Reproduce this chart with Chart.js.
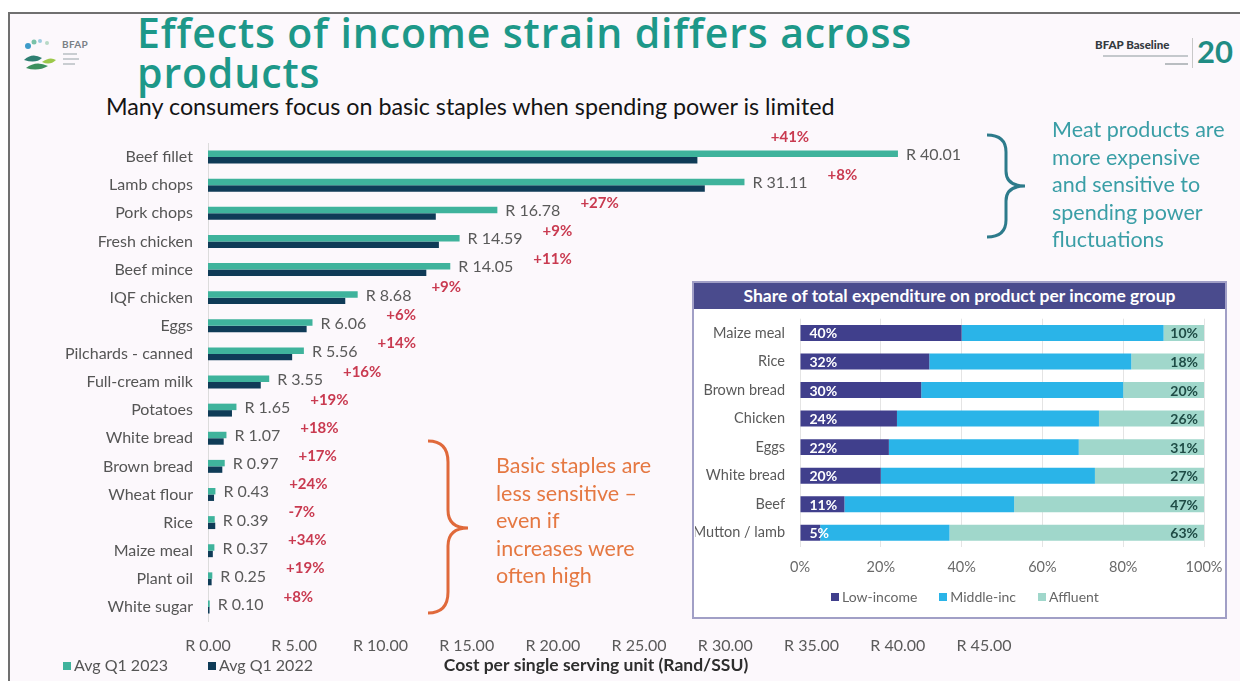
<!DOCTYPE html>
<html>
<head>
<meta charset="utf-8">
<title>Effects of income strain differs across products</title>
<script src="https://cdn.jsdelivr.net/npm/chart.js@4.4.1/dist/chart.umd.min.js"></script>
<style>
  html, body { margin: 0; padding: 0; background: #ffffff; }
  #slide { position: relative; width: 1240px; height: 681px; overflow: hidden; background: #ffffff; font-family: Lato, "Open Sans", sans-serif; }
  #frame { position: absolute; left: 8px; top: 12px; width: 1240px; height: 680px; border-left: 2px solid #707070; border-top: 2px solid #707070; background: #fcf8fc; }
  .abs { position: absolute; white-space: nowrap; }
  #title { left: 137px; top: 12px; color: #1d9889; font-family: "Open Sans", sans-serif; font-weight: 600; font-size: 41px; line-height: 40px; }
  #subtitle { left: 106px; top: 93px; color: #141414; font-size: 23.3px; line-height: 26px; }
  #mainCanvas { position: absolute; left: 0; top: 0; }
  .note { position: absolute; font-size: 21.5px; line-height: 27.6px; white-space: nowrap; }
  #meatNote { left: 1052px; top: 116px; color: #3a9ea6; }
  #stapleNote { left: 496px; top: 452px; color: #e57842; }
  #inset { position: absolute; left: 692px; top: 281px; width: 531px; height: 334px; border: 2px solid #a19fc6; background: #ffffff; }
  #insetHead { position: absolute; left: 0; top: 0; width: 531px; height: 26px; background: #4a4b8d; color: #ffffff; font-weight: 700; font-size: 17.5px; line-height: 26px; text-align: center; }
  #insetCanvas { position: absolute; left: 695px; top: 310px; }
  .legend { position: absolute; color: #555555; white-space: nowrap; }
  .legend span.sw { display: inline-block; width: 8px; height: 8px; margin-right: 3px; vertical-align: 1px; }
  #insetLegend { left: 831px; top: 588px; font-size: 14px; line-height: 18px; color: #666666; }
  #insetLegend .item { margin-right: 22px; }
  #mainLegend { left: 63px; top: 655px; font-size: 16px; line-height: 20px; }
  #mainLegend .item { margin-right: 40px; }
  #logoText { left: 62px; top: 38px; font-size: 10px; font-weight: 700; color: #7a7f86; letter-spacing: 0.3px; }
  #baseline { left: 1095px; top: 38px; font-size: 11.5px; font-weight: 900; color: #333a40; }
  #twenty { left: 1197px; top: 34px; font-size: 31px; font-weight: 700; color: #1f8c84; line-height: 34px; }
</style>
</head>
<body>
<div id="slide">
  <div id="frame"></div>

  <!-- organisation marks -->
  <svg class="abs" style="left:18px;top:34px" width="44" height="42" viewBox="0 0 44 42">
    <circle cx="10" cy="12" r="3" fill="#3d9bc9"/>
    <circle cx="16" cy="8" r="2.5" fill="#79c2a9"/>
    <circle cx="22" cy="7" r="2" fill="#9bcbe0"/>
    <circle cx="29" cy="9" r="2" fill="#b8d9c6"/>
    <path d="M6 26 Q14 18 24 24 Q18 30 6 26 Z" fill="#2f7f72"/>
    <path d="M8 34 Q18 26 30 32 Q20 38 8 34 Z" fill="#3c8f5e"/>
    <path d="M24 28 Q32 22 38 26 Q32 32 24 28 Z" fill="#9cc84a"/>
  </svg>
  <div id="logoText" class="abs">BFAP</div>
  <div class="abs" style="left:63px;top:53px;width:14px;height:2px;background:#c9cdd1"></div>
  <div class="abs" style="left:63px;top:58px;width:16px;height:2px;background:#c9cdd1"></div>
  <div class="abs" style="left:63px;top:63px;width:12px;height:2px;background:#c9cdd1"></div>

  <div id="baseline" class="abs">BFAP Baseline</div>
  <div class="abs" style="left:1103px;top:55px;width:85px;height:2px;background:#c4c8cc"></div>
  <div class="abs" style="left:1165px;top:63px;width:23px;height:2px;background:#b9bdc1"></div>
  <div class="abs" style="left:1192px;top:38px;width:1px;height:30px;background:#c8c8c8"></div>
  <div id="twenty" class="abs">20</div>

  <div id="title" class="abs"><span id="titleLine1">Effects of income strain differs across</span><br><span>products</span></div>
  <div id="subtitle" class="abs">Many consumers focus on basic staples when spending power is limited</div>

  <canvas id="mainCanvas" width="1240" height="681"></canvas>

  <!-- braces grouping the products -->
  <svg class="abs" style="left:0;top:0" width="1240" height="681">
    <path d="M987 135 Q1006 135 1006 152 L1006 171 Q1006 186 1025 186 Q1006 186 1006 201 L1006 220 Q1006 237 987 237"
          fill="none" stroke="#2d7b8b" stroke-width="3"/>
    <path d="M428 441 Q448 441 448 462 L448 510 Q448 528 468 528 Q448 528 448 546 L448 592 Q448 613 428 613"
          fill="none" stroke="#e0693b" stroke-width="3"/>
  </svg>

  <div id="meatNote" class="note">Meat products are<br>more expensive<br>and sensitive to<br>spending power<br>fluctuations</div>
  <div id="stapleNote" class="note">Basic staples are<br>less sensitive –<br>even if<br>increases were<br>often high</div>

  <div id="inset"><div id="insetHead">Share of total expenditure on product per income group</div></div>
  <canvas id="insetCanvas" width="528" height="305"></canvas>
  <div id="insetLegend" class="legend"></div>

  <div id="mainLegend" class="legend"></div>
</div>

<script>
// ---- Cost per single serving unit (Rand/SSU) ----
const products = ['Beef fillet', 'Lamb chops', 'Pork chops', 'Fresh chicken', 'Beef mince', 'IQF chicken', 'Eggs',
  'Pilchards - canned', 'Full-cream milk', 'Potatoes', 'White bread', 'Brown bread', 'Wheat flour', 'Rice',
  'Maize meal', 'Plant oil', 'White sugar'];
const avgQ12023 = [40.01, 31.11, 16.78, 14.59, 14.05, 8.68, 6.06, 5.56, 3.55, 1.65, 1.07, 0.97, 0.43, 0.39, 0.37, 0.25, 0.10];
const avgQ12022 = [28.38, 28.81, 13.21, 13.39, 12.66, 7.96, 5.72, 4.88, 3.06, 1.39, 0.91, 0.83, 0.35, 0.42, 0.28, 0.21, 0.09];
const yearOnYear = ['+41%', '+8%', '+27%', '+9%', '+11%', '+9%', '+6%', '+14%', '+16%', '+19%', '+18%', '+17%', '+24%',
  '-7%', '+34%', '+19%', '+8%'];
const seriesNames = ['Avg Q1 2023', 'Avg Q1 2022'];
const randAxisMax = 45;
const randAxisStep = 5;

// ---- Share of total expenditure on product per income group (%) ----
const shareProducts = ['Maize meal', 'Rice', 'Brown bread', 'Chicken', 'Eggs', 'White bread', 'Beef', 'Mutton / lamb'];
const lowIncomeShare = [40, 32, 30, 24, 22, 20, 11, 5];
const middleIncomeShare = [50, 50, 50, 50, 47, 53, 42, 32];
const affluentShare = [10, 18, 20, 26, 31, 27, 47, 63];
const incomeGroups = ['Low-income', 'Middle-inc', 'Affluent'];

const COL_2023 = '#3fb39c';
const COL_2022 = '#0f3b57';
const COL_LOW = '#403f8c';
const COL_MID = '#2ab4e8';
const COL_AFF = '#a0d7cb';
const LABEL_FONT = 'Lato, "Open Sans", sans-serif';

// stretch the headline's first line to its column width
(function fitTitle() {
  const line = document.getElementById('titleLine1');
  const target = 775;
  const w = line.getBoundingClientRect().width;
  const n = line.textContent.length;
  document.getElementById('title').style.letterSpacing = ((target - w) / n).toFixed(2) + 'px';
})();

// Rand value beside each 2023 bar, with the year-on-year change in red
const costLabels = {
  id: 'costLabels',
  afterDatasetsDraw(chart) {
    const ctx = chart.ctx;
    const area = chart.chartArea;
    const bars = chart.getDatasetMeta(0).data;
    ctx.save();
    ctx.textBaseline = 'middle';
    bars.forEach((bar, i) => {
      const txt = 'R ' + avgQ12023[i].toFixed(2);
      ctx.font = '16px ' + LABEL_FONT;
      ctx.fillStyle = '#5a5a5a';
      ctx.textAlign = 'left';
      const tx = bar.x + 8;
      const ty = bar.y + 1;
      ctx.fillText(txt, tx, ty);
      const w = ctx.measureText(txt).width;
      ctx.font = 'bold 15px ' + LABEL_FONT;
      ctx.fillStyle = '#c93a50';
      const pw = ctx.measureText(yearOnYear[i]).width;
      let px = tx + w + 20;
      let py = ty - 8;
      if (px + pw > area.right) {
        // no room on the right: sit above the bar instead
        ctx.textAlign = 'center';
        px = bar.x - 108;
        py = bar.y - 17;
      }
      ctx.fillText(yearOnYear[i], px, py);
    });
    ctx.restore();
  }
};

new Chart(document.getElementById('mainCanvas'), {
  type: 'bar',
  data: {
    labels: products,
    datasets: [
      { label: seriesNames[0], data: avgQ12023, backgroundColor: COL_2023 },
      { label: seriesNames[1], data: avgQ12022, backgroundColor: COL_2022 }
    ]
  },
  options: {
    indexAxis: 'y',
    responsive: false,
    animation: false,
    devicePixelRatio: 1,
    categoryPercentage: 0.46,
    barPercentage: 1,
    layout: { padding: { top: 143, right: 256, bottom: 0, left: 0 } },
    plugins: { legend: { display: false }, tooltip: { enabled: false } },
    scales: {
      x: {
        min: 0, max: randAxisMax,
        grid: { display: false, drawTicks: false },
        border: { display: false },
        afterFit(scale) { scale.height = 60; },
        ticks: {
          stepSize: randAxisStep,
          padding: 15,
          color: '#5a5a5a',
          font: { family: LABEL_FONT, size: 16 },
          callback: v => 'R ' + Number(v).toFixed(2)
        },
        title: {
          display: true,
          text: 'Cost per single serving unit (Rand/SSU)',
          color: '#2e2e2e',
          font: { family: LABEL_FONT, size: 17.5, weight: 'bold' },
          padding: { top: 0, bottom: 5 }
        }
      },
      y: {
        grid: { display: false, drawTicks: false },
        border: { display: true, color: '#dcdcdc', width: 1 },
        afterFit(scale) { scale.width = 208; },
        ticks: {
          padding: 15,
          color: '#555555',
          font: { family: LABEL_FONT, size: 16 }
        }
      }
    }
  },
  plugins: [costLabels]
});

// Percent shares printed on the low-income and affluent segments
const shareLabels = {
  id: 'shareLabels',
  afterDatasetsDraw(chart) {
    const ctx = chart.ctx;
    const area = chart.chartArea;
    ctx.save();
    ctx.textBaseline = 'middle';
    ctx.font = 'bold 14px ' + LABEL_FONT;
    chart.getDatasetMeta(0).data.forEach((bar, i) => {
      ctx.fillStyle = '#ffffff';
      ctx.textAlign = 'left';
      ctx.fillText(lowIncomeShare[i] + '%', bar.base + 9, bar.y + 1);
    });
    chart.getDatasetMeta(2).data.forEach((bar, i) => {
      ctx.fillStyle = '#1f4c46';
      ctx.textAlign = 'right';
      ctx.fillText(affluentShare[i] + '%', area.right - 6, bar.y + 1);
    });
    ctx.restore();
  }
};

new Chart(document.getElementById('insetCanvas'), {
  type: 'bar',
  data: {
    labels: shareProducts,
    datasets: [
      { label: incomeGroups[0], data: lowIncomeShare, backgroundColor: COL_LOW },
      { label: incomeGroups[1], data: middleIncomeShare, backgroundColor: COL_MID },
      { label: incomeGroups[2], data: affluentShare, backgroundColor: COL_AFF }
    ]
  },
  options: {
    indexAxis: 'y',
    responsive: false,
    animation: false,
    devicePixelRatio: 1,
    categoryPercentage: 0.56,
    barPercentage: 1,
    layout: { padding: { top: 8, right: 19, bottom: 38, left: 0 } },
    plugins: { legend: { display: false }, tooltip: { enabled: false } },
    scales: {
      x: {
        stacked: true,
        min: 0, max: 100,
        // label gap comes from an invisible tick mark so the edge padding stays tight
        grid: { color: '#e4e4e4', drawTicks: true, tickLength: 12, tickColor: 'rgba(0,0,0,0)' },
        border: { display: false },
        afterFit(scale) { scale.height = 30; },
        ticks: {
          stepSize: 20,
          padding: 0,
          color: '#6a6a6a',
          font: { family: LABEL_FONT, size: 14.5 },
          callback: v => v + '%'
        }
      },
      y: {
        stacked: true,
        grid: { display: false, drawTicks: true, tickLength: 15 },
        border: { display: false },
        afterFit(scale) { scale.width = 105; },
        ticks: {
          padding: 0,
          color: '#5a5a5a',
          font: { family: LABEL_FONT, size: 14.5 }
        }
      }
    }
  },
  plugins: [shareLabels]
});

// Legends
function buildLegend(el, names, colors) {
  names.forEach((n, i) => {
    const item = document.createElement('span');
    item.className = 'item';
    const sw = document.createElement('span');
    sw.className = 'sw';
    sw.style.background = colors[i];
    item.appendChild(sw);
    item.appendChild(document.createTextNode(n));
    el.appendChild(item);
  });
}
buildLegend(document.getElementById('mainLegend'), seriesNames, [COL_2023, COL_2022]);
buildLegend(document.getElementById('insetLegend'), incomeGroups, [COL_LOW, COL_MID, COL_AFF]);
</script>
</body>
</html>
